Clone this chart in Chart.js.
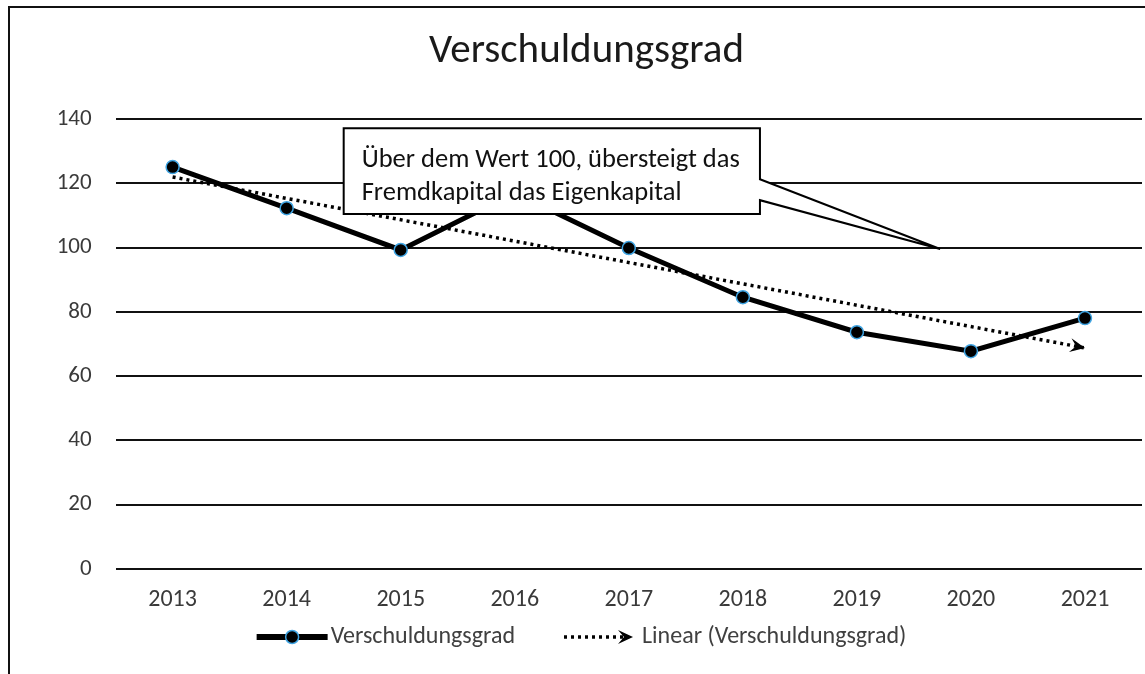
<!DOCTYPE html>
<html><head><meta charset="utf-8">
<script src="https://cdn.jsdelivr.net/npm/chart.js@4.4.1/dist/chart.umd.min.js"></script>
<style>
html,body{margin:0;padding:0;background:#fff;overflow:hidden}
#wrap{position:relative;width:1150px;height:674px}
</style>
</head><body><div id="wrap"><canvas id="c"></canvas></div>
<script>
// ---- data ----
const years = ['2013','2014','2015','2016','2017','2018','2019','2020','2021'];
const debtRatio = [125.1, 112.3, 99.3, 117, 99.9, 84.6, 73.7, 67.8, 78.1];
const trendValues = [122, null, null, null, null, null, null, null, 68.8];
const yTicks = [0, 20, 40, 60, 80, 100, 120, 140];
const seriesNames = ['Verschuldungsgrad', 'Linear (Verschuldungsgrad)'];
const titleText = 'Verschuldungsgrad';
const calloutLines = ['Über dem Wert 100, übersteigt das', 'Fremdkapital das Eigenkapital'];
// callout anchored in data space: [x-index left, x-index right, y top, y bottom]
const calloutBox = [1.5, 5.15, 137.2, 110.5];
// pointer: base y values on right edge (upper, lower), tip [x-index, y]
const calloutPointerBase = [121.3, 114.8];
const calloutTip = [6.73, 99.6];

const FONT = 'Carlito, Lato, "Open Sans", sans-serif';
const MARKER_BORDER = '#3fa4e2';

const framePlugin = {
  id: 'frame',
  beforeDraw(chart) {
    const ctx = chart.ctx;
    ctx.save();
    ctx.fillStyle = '#fff';
    ctx.fillRect(0, 0, chart.width, chart.height);
    ctx.strokeStyle = '#111';
    ctx.lineWidth = 2;
    ctx.beginPath();
    ctx.moveTo(9, chart.height + 5);
    ctx.lineTo(9, 7);
    ctx.lineTo(chart.width + 5, 7);
    ctx.stroke();
    ctx.restore();
  }
};

function drawArrowHead(ctx, x, y, angle, len, half) {
  ctx.save();
  ctx.translate(x, y);
  ctx.rotate(angle);
  ctx.beginPath();
  ctx.moveTo(0, 0);
  ctx.lineTo(-len, -half);
  ctx.lineTo(-len * 0.6, 0);
  ctx.lineTo(-len, half);
  ctx.closePath();
  ctx.fill();
  ctx.restore();
}

const trendArrowPlugin = {
  id: 'trendArrow',
  afterDatasetsDraw(chart) {
    const meta = chart.getDatasetMeta(1);
    const pts = meta.data;
    const a = pts[0], b = pts[pts.length - 1];
    const ang = Math.atan2(b.y - a.y, b.x - a.x);
    chart.ctx.fillStyle = '#000';
    drawArrowHead(chart.ctx, b.x, b.y, ang, 15, 7);
  }
};

const calloutPlugin = {
  id: 'callout',
  afterDatasetsDraw(chart) {
    const {ctx, scales: {x, y}} = chart;
    const L = x.getPixelForValue(calloutBox[0]);
    const R = x.getPixelForValue(calloutBox[1]);
    const T = y.getPixelForValue(calloutBox[2]);
    const B = y.getPixelForValue(calloutBox[3]);
    const p1 = y.getPixelForValue(calloutPointerBase[0]);
    const p2 = y.getPixelForValue(calloutPointerBase[1]);
    const tx = x.getPixelForValue(calloutTip[0]);
    const ty = y.getPixelForValue(calloutTip[1]);
    ctx.save();
    ctx.beginPath();
    ctx.moveTo(L, T);
    ctx.lineTo(R, T);
    ctx.lineTo(R, p1);
    ctx.lineTo(tx, ty);
    ctx.lineTo(R, p2);
    ctx.lineTo(R, B);
    ctx.lineTo(L, B);
    ctx.closePath();
    ctx.fillStyle = '#fff';
    ctx.fill();
    ctx.strokeStyle = '#000';
    ctx.lineWidth = 2;
    ctx.lineJoin = 'miter';
    ctx.stroke();
    ctx.fillStyle = '#111';
    ctx.font = '26.5px ' + FONT;
    ctx.textBaseline = 'middle';
    ctx.textAlign = 'left';
    ctx.fillText(calloutLines[0], L + 18, T + (B - T) * 0.38);
    ctx.fillText(calloutLines[1], L + 18, T + (B - T) * 0.765);
    ctx.restore();
  }
};

function legendSymbolLine(ctx, x0, x1, y) {
  ctx.save();
  ctx.strokeStyle = '#000';
  ctx.lineWidth = 6;
  ctx.beginPath(); ctx.moveTo(x0, y); ctx.lineTo(x1, y); ctx.stroke();
  ctx.fillStyle = '#000';
  ctx.strokeStyle = MARKER_BORDER;
  ctx.lineWidth = 1.5;
  ctx.beginPath(); ctx.arc((x0 + x1) / 2, y, 6.5, 0, Math.PI * 2); ctx.fill(); ctx.stroke();
  ctx.restore();
}
function legendSymbolTrend(ctx, x0, x1, y) {
  ctx.save();
  ctx.strokeStyle = '#000';
  ctx.lineWidth = 3.5;
  ctx.setLineDash([3, 4]);
  ctx.beginPath(); ctx.moveTo(x0, y); ctx.lineTo(x1 - 6, y); ctx.stroke();
  ctx.fillStyle = '#000';
  drawArrowHead(ctx, x1, y, 0, 15, 7);
  ctx.restore();
}

const legendPlugin = {
  id: 'customLegend',
  afterDraw(chart) {
    const ctx = chart.ctx;
    ctx.save();
    ctx.font = '24px ' + FONT;
    ctx.fillStyle = '#404040';
    ctx.textBaseline = 'middle';
    const y = 637;
    const s1 = 71, s2 = 69, g1 = 3, gap = 49, g2 = 9;
    const w1 = ctx.measureText(seriesNames[0]).width;
    const w2 = ctx.measureText(seriesNames[1]).width;
    const total = s1 + g1 + w1 + gap + s2 + g2 + w2;
    let cx = 581.5 - total / 2;
    legendSymbolLine(ctx, cx, cx + s1, y);
    cx += s1 + g1;
    ctx.fillText(seriesNames[0], cx, y);
    cx += w1 + gap;
    legendSymbolTrend(ctx, cx, cx + s2, y);
    cx += s2 + g2;
    ctx.fillText(seriesNames[1], cx, y);
    ctx.restore();
  }
};

new Chart(document.getElementById('c'), {
  type: 'line',
  data: {
    labels: years,
    datasets: [
      {
        label: seriesNames[0],
        data: debtRatio,
        borderColor: '#000',
        borderWidth: 5,
        pointRadius: 6.5,
        pointBackgroundColor: '#000',
        pointBorderColor: MARKER_BORDER,
        pointBorderWidth: 1.5,
        tension: 0,
        order: 1
      },
      {
        label: seriesNames[1],
        data: trendValues,
        spanGaps: true,
        borderColor: '#000',
        borderWidth: 3.5,
        borderDash: [3, 4],
        pointRadius: 0,
        tension: 0,
        order: 2
      }
    ]
  },
  options: {
    responsive: true,
    maintainAspectRatio: false,
    animation: false,
    layout: { padding: { left: 25, right: 2, top: 0, bottom: 43 } },
    plugins: {
      legend: { display: false },
      tooltip: { enabled: false },
      title: {
        display: true,
        text: titleText,
        color: '#1a1a1a',
        font: { size: 41, family: FONT, weight: 'normal' },
        padding: { top: 27, bottom: 43 }
      }
    },
    scales: {
      x: {
        offset: true,
        grid: { display: false, drawTicks: false },
        border: { display: false },
        ticks: { color: '#3a3a3a', font: { size: 24, family: FONT }, padding: 16.6, maxRotation: 0 }
      },
      y: {
        min: 0, max: 140,
        afterBuildTicks(scale) { scale.ticks = yTicks.map(v => ({ value: v })); },
        afterFit(scale) { scale.width = 90.6; },
        grid: { color: '#111', lineWidth: 2, drawTicks: false },
        border: { display: false },
        ticks: { color: '#3a3a3a', font: { size: 23, family: FONT }, padding: 24 }
      }
    }
  },
  plugins: [framePlugin, trendArrowPlugin, calloutPlugin, legendPlugin]
});
</script>
</body></html>
